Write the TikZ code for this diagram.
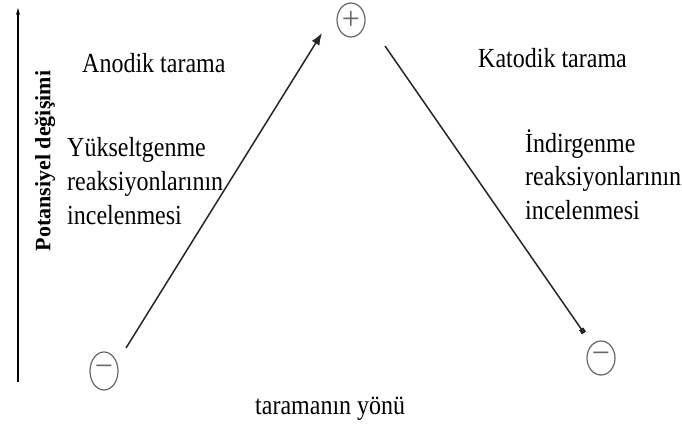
\documentclass[tikz,border=0pt]{standalone}
\usepackage{fontspec}
\setmainfont{Liberation Serif}
\usetikzlibrary{
	shapes.geometric,					% Ellipse shapes for the signs
	arrows.meta							% Advanced arrows
}

\begin{document}
\begin{tikzpicture}
		[
		,x=1pt
		,y=1pt
		,sign/.style = {
			,draw=black!60
			,ellipse
			,minimum width=28pt
			,minimum height=34pt
			,inner sep=0pt
			,line width=1.2pt
			,text=black!60
			,font=\fontsize{32}{32}\selectfont}
		,text_label/.style = {
			,inner sep=0pt
			,align=left
			,yscale=1.15
			,font=\fontsize{24}{29.5}\selectfont}
		,scan/.style = {
			,draw=black!85
			,line width=1.5pt}
		,arrow_head/.tip = {
			Latex[length=12pt, width=9pt]}
		]
		\useasboundingbox (0,0) rectangle (682,428);
		
		% Potential axis
		\coordinate (axis_bottom) at (18,46);
		\coordinate (axis_top)    at (18,420);
		\draw[line width=1.3pt, -{Stealth[length=7pt, width=4pt]}] (axis_bottom) -- (axis_top);
		\node[inner sep=0pt, rotate=90, font=\bfseries\fontsize{22}{22}\selectfont] (axis_label) at (45,267) {Potansiyel değişimi};
		
		% Signs
		\node [sign]                      (plus)        at (351,408) {+};
		\node [sign, minimum height=38pt] (minus_left)  at (104,57)  {−};
		\node [sign]                      (minus_right) at (601,70)  {−};
		
		% Scan arrows
		\draw [scan, -arrow_head] ([shift={(22,23)}]minus_left.center) -- ([shift={(-29,-13)}]plus.center);
		\draw [scan, -{Square[length=5pt, width=5pt]}] ([shift={(34,-26)}]plus.center) -- ([shift={(-17,25)}]minus_right.center);
		
		% Labels
		\node[text_label, anchor=base west]  (anodic)    at (82,355)  {Anodik tarama};
		\node[text_label, anchor=base west]  (cathodic)  at (478,360) {Katodik tarama};
		\node[text_label, anchor=north west] (oxidation) at (67,291)  {Yükseltgenme\\reaksiyonlarının\\incelenmesi};
		\node[text_label, anchor=north west] (reduction) at (525,299) {İndirgenme\\reaksiyonlarının\\incelenmesi};
		\node[text_label, anchor=base west]  (direction) at (255,13)  {taramanın yönü};
	\end{tikzpicture}
\end{document}
